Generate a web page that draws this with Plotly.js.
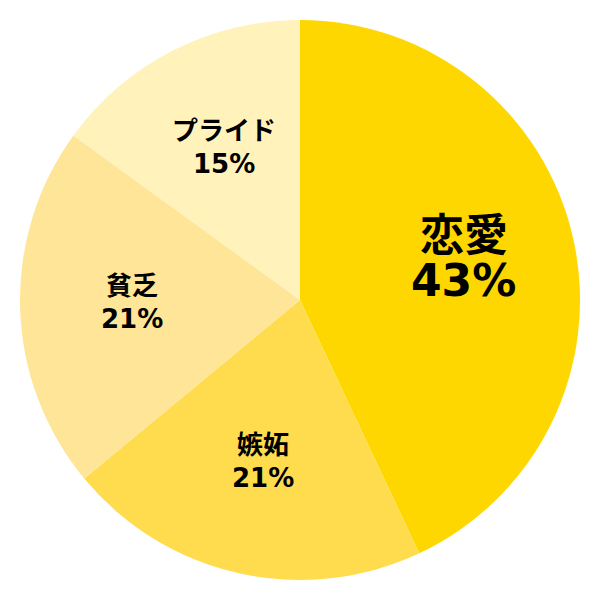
<!DOCTYPE html>
<html>
<head>
<meta charset="utf-8">
<script src="https://cdn.plot.ly/plotly-3.0.1.min.js"></script>
<style>
  html, body { margin: 0; padding: 0; background: #fff; }
  #chart { width: 600px; height: 600px; }
</style>
</head>
<body>
<div id="chart"></div>
<script>
var labels = ['恋愛', '嫉妬', '貧乏', 'プライド'];
var shares = [43, 21, 21, 15];
var colors = ['#FFD700', '#FFDB4E', '#FFE597', '#FFF2BA'];

// big label for the first slice, smaller for the rest
var labelSize = [44, 26, 26, 26];
var labelShift = [[28, -17], [19, -14], [19, -14], [19, -14]];

var FONT = 'DejaVu Sans, "Noto Sans CJK JP", sans-serif';
var R = 0.4667;       // pie radius in paper units
var textR = 0.6 * R;  // labels sit at 60% of the radius

var pie = {
  type: 'pie',
  labels: labels,
  values: shares,
  sort: false,
  direction: 'clockwise',
  rotation: 0,
  textinfo: 'none',
  hoverinfo: 'none',
  marker: { colors: colors, line: { width: 0 } },
  domain: { x: [0.5 - R, 0.5 + R], y: [0.5 - R, 0.5 + R] },
  showlegend: false
};

var total = shares.reduce(function (a, b) { return a + b; }, 0);
var annotations = [];
var cum = 0;
shares.forEach(function (v, i) {
  var mid = (cum + v / 2) / total * 2 * Math.PI;
  cum += v;
  var x = 0.5 + textR * Math.sin(mid);
  var y = 0.5 + textR * Math.cos(mid);
  annotations.push({
    x: x, y: y, xref: 'paper', yref: 'paper',
    text: labels[i], showarrow: false,
    xanchor: 'center', yanchor: 'middle', yshift: labelShift[i][0],
    font: { family: FONT, size: labelSize[i], color: '#000', weight: 'bold' }
  });
  annotations.push({
    x: x, y: y, xref: 'paper', yref: 'paper',
    text: Math.round(v / total * 100) + '%', showarrow: false,
    xanchor: 'center', yanchor: 'middle', yshift: labelShift[i][1],
    font: { family: FONT, size: labelSize[i], color: '#000', weight: 'bold' }
  });
});

var layout = {
  width: 600,
  height: 600,
  margin: { l: 0, r: 0, t: 0, b: 0 },
  paper_bgcolor: '#fff',
  annotations: annotations
};

Plotly.newPlot('chart', [pie], layout, { displayModeBar: false, staticPlot: true });
</script>
</body>
</html>
